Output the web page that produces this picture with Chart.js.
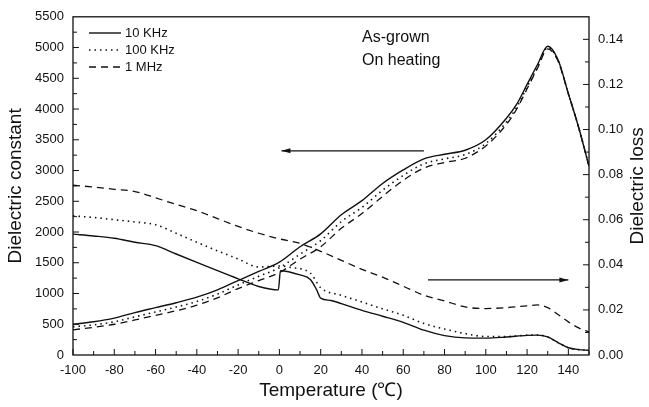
<!DOCTYPE html>
<html>
<head>
<meta charset="utf-8">
<script src="https://cdn.jsdelivr.net/npm/chart.js@4.4.1/dist/chart.umd.min.js"></script>
<style>
    html, body { margin: 0; padding: 0; background: #fff; }
    #wrap { position: relative; width: 649px; height: 407px; }
</style>
</head>
<body>
<div id="wrap"><canvas id="chartCanvas" width="649" height="407"></canvas></div>
<script>
// Dielectric constant (left axis)
const tempConst = [-100, -90, -80, -70, -60, -50, -40, -30, -20, -10, 0, 10, 20, 30, 40, 50, 60, 70, 80, 90, 100, 110, 115, 120, 125, 130, 135, 140, 145, 150];
const const10k = [500, 540, 600, 690, 770, 850, 940, 1060, 1210, 1360, 1510, 1760, 1970, 2280, 2510, 2790, 3010, 3190, 3265, 3330, 3500, 3850, 4080, 4400, 4720, 5020, 4800, 4250, 3700, 3070];
const const100k = [460, 490, 540, 620, 700, 780, 870, 990, 1140, 1280, 1420, 1640, 1860, 2170, 2400, 2680, 2920, 3110, 3190, 3260, 3440, 3790, 4030, 4360, 4680, 5000, 4790, 4250, 3700, 3070];
const const1M = [410, 450, 500, 570, 645, 720, 810, 930, 1080, 1210, 1340, 1560, 1760, 2060, 2300, 2580, 2840, 3040, 3130, 3200, 3400, 3750, 4000, 4330, 4660, 4980, 4780, 4250, 3700, 3070];

// Dielectric loss (right axis)
const tempLoss10k = [-100, -90, -80, -70, -60, -50, -40, -30, -20, -10, -0.5, 0.5, 10, 15, 18, 20, 25, 30, 40, 50, 60, 70, 80, 90, 100, 110, 120, 125, 130, 135, 140, 145, 150];
const loss10k = [0.0536, 0.0528, 0.0518, 0.0500, 0.0485, 0.0448, 0.0411, 0.0374, 0.0338, 0.0304, 0.0289, 0.0374, 0.0355, 0.0335, 0.0290, 0.0252, 0.0242, 0.0228, 0.0198, 0.0172, 0.0145, 0.0110, 0.0086, 0.0076, 0.0075, 0.0080, 0.0087, 0.0088, 0.0080, 0.0055, 0.0032, 0.0024, 0.0021];
const tempLoss100k = [-100, -90, -80, -70, -60, -50, -40, -30, -20, -10, 0, 5, 15, 20, 30, 40, 50, 60, 70, 80, 90, 100, 110, 120, 125, 130, 135, 140, 145, 150];
const loss100k = [0.0617, 0.0610, 0.0600, 0.0590, 0.0578, 0.0540, 0.0500, 0.0462, 0.0426, 0.0390, 0.0395, 0.0389, 0.0363, 0.0298, 0.0265, 0.0235, 0.0205, 0.0176, 0.0140, 0.0115, 0.0095, 0.0082, 0.0082, 0.0088, 0.0089, 0.0080, 0.0055, 0.0032, 0.0024, 0.0021];
const tempLoss1M = [-100, -90, -80, -70, -60, -50, -40, -30, -20, -10, 0, 10, 20, 30, 40, 50, 60, 70, 80, 90, 100, 110, 120, 125, 130, 135, 140, 145, 150];
const loss1M = [0.0753, 0.0745, 0.0735, 0.0725, 0.0697, 0.0668, 0.0640, 0.0605, 0.0570, 0.0540, 0.0515, 0.0495, 0.0460, 0.0420, 0.0380, 0.0345, 0.0305, 0.0265, 0.0240, 0.0213, 0.0206, 0.0210, 0.0218, 0.0222, 0.0210, 0.0180, 0.0147, 0.0120, 0.0103];

// ticks
const xTicks = [-100, -80, -60, -40, -20, 0, 20, 40, 60, 80, 100, 120, 140];
const constTicks = [0, 500, 1000, 1500, 2000, 2500, 3000, 3500, 4000, 4500, 5000, 5500];
const lossTicks = [0, 0.02, 0.04, 0.06, 0.08, 0.10, 0.12, 0.14];

const legendLabels = ['10 KHz', '100 KHz', '1 MHz'];
const noteLines = ['As-grown', 'On heating'];
const rightTitle = 'Dielectric loss';

const INK = '#111';
const FONT = 'Arial, "Liberation Sans", sans-serif';

const pts = (xs, ys) => xs.map((x, i) => ({ x, y: ys[i] }));

const styles = [
    { borderDash: [], borderWidth: 1.4 },
    { borderDash: [1.5, 4], borderWidth: 1.6 },
    { borderDash: [7, 5], borderWidth: 1.3 },
];

function ds(data, axis, s) {
    return {
        data,
        yAxisID: axis,
        borderColor: INK,
        borderWidth: s.borderWidth,
        borderDash: s.borderDash,
        pointRadius: 0,
        cubicInterpolationMode: 'monotone',
        fill: false,
    };
}

// frame, inward ticks, legend, notes, arrows and right title
const decor = {
    id: 'decor',
    afterDraw(chart) {
        const ctx = chart.ctx;
        const a = chart.chartArea;
        const sx = chart.scales.x, sl = chart.scales.yL, sr = chart.scales.yR;
        ctx.save();
        ctx.strokeStyle = INK;
        ctx.lineWidth = 1.3;
        ctx.strokeRect(a.left, a.top, a.right - a.left, a.bottom - a.top);

        ctx.lineWidth = 1;
        ctx.beginPath();
        for (let v = -100; v <= 150; v += 10) {
            const px = sx.getPixelForValue(v);
            const len = v % 20 === 0 ? 6 : 4;
            ctx.moveTo(px, a.bottom);
            ctx.lineTo(px, a.bottom - len);
        }
        for (let v = 250; v < 5500; v += 250) {
            const py = sl.getPixelForValue(v);
            const len = v % 500 === 0 ? 6 : 4;
            ctx.moveTo(a.left, py);
            ctx.lineTo(a.left + len, py);
        }
        for (let i = 1; i <= 14; i++) {
            const py = sr.getPixelForValue(i / 100);
            const len = i % 2 === 0 ? 6 : 4;
            ctx.moveTo(a.right, py);
            ctx.lineTo(a.right - len, py);
        }
        ctx.stroke();

        // legend
        ctx.font = '13px ' + FONT;
        ctx.fillStyle = INK;
        ctx.textBaseline = 'middle';
        legendLabels.forEach((lab, i) => {
            const y = 33 + i * 17;
            ctx.beginPath();
            ctx.lineWidth = styles[i].borderWidth;
            ctx.setLineDash(styles[i].borderDash);
            ctx.moveTo(89, y);
            ctx.lineTo(121, y);
            ctx.stroke();
            ctx.setLineDash([]);
            ctx.fillText(lab, 125, y);
        });

        // notes
        ctx.font = '16px ' + FONT;
        noteLines.forEach((t, i) => ctx.fillText(t, 362, 38 + i * 23));

        // arrows (in data coordinates)
        const arrow = (x0, x1, y) => {
            ctx.beginPath();
            ctx.lineWidth = 1.2;
            ctx.moveTo(x0, y);
            ctx.lineTo(x1, y);
            ctx.stroke();
            const d = x1 > x0 ? -1 : 1;
            ctx.beginPath();
            ctx.moveTo(x1, y);
            ctx.lineTo(x1 + d * 9, y - 2.5);
            ctx.lineTo(x1 + d * 9, y + 2.5);
            ctx.closePath();
            ctx.fill();
        };
        arrow(sx.getPixelForValue(70), sx.getPixelForValue(1), sl.getPixelForValue(3320));
        arrow(sx.getPixelForValue(72), sx.getPixelForValue(140), sr.getPixelForValue(0.0333));

        // right axis title reads bottom-to-top, like the left one
        ctx.font = '19px ' + FONT;
        ctx.textAlign = 'center';
        ctx.translate(638, (a.top + a.bottom) / 2);
        ctx.rotate(-Math.PI / 2);
        ctx.fillText(rightTitle, 0, 0);
        ctx.restore();
    },
};

const tickFont = { family: FONT, size: 13 };

new Chart(document.getElementById('chartCanvas'), {
    type: 'line',
    data: {
        datasets: [
            ds(pts(tempConst, const10k), 'yL', styles[0]),
            ds(pts(tempConst, const100k), 'yL', styles[1]),
            ds(pts(tempConst, const1M), 'yL', styles[2]),
            ds(pts(tempLoss10k, loss10k), 'yR', styles[0]),
            ds(pts(tempLoss100k, loss100k), 'yR', styles[1]),
            ds(pts(tempLoss1M, loss1M), 'yR', styles[2]),
        ],
    },
    options: {
        responsive: false,
        animation: false,
        layout: { padding: { top: 14, left: 0, right: 0, bottom: 0 } },
        plugins: { legend: { display: false }, tooltip: { enabled: false } },
        scales: {
            x: {
                type: 'linear',
                min: -100,
                max: 150,
                grid: { display: false, drawTicks: false },
                border: { display: false },
                afterBuildTicks: (s) => { s.ticks = xTicks.map((v) => ({ value: v })); },
                afterFit: (s) => { s.height = 52; },
                ticks: { color: INK, font: tickFont, padding: 8, maxRotation: 0, autoSkip: false, callback: (v) => String(v) },
                title: {
                    display: true,
                    text: 'Temperature (\u2103)',
                    color: INK,
                    font: { family: FONT, size: 19 },
                    padding: { top: 0, bottom: 5 },
                },
            },
            yL: {
                type: 'linear',
                position: 'left',
                min: 0,
                max: 5500,
                grid: { display: false, drawTicks: false },
                border: { display: false },
                afterBuildTicks: (s) => { s.ticks = constTicks.map((v) => ({ value: v })); },
                afterFit: (s) => { s.width = 73; },
                ticks: { color: INK, font: tickFont, padding: 9, autoSkip: false, callback: (v) => String(v) },
                title: {
                    display: true,
                    text: 'Dielectric constant',
                    color: INK,
                    font: { family: FONT, size: 19 },
                    padding: { top: 4, bottom: 0 },
                },
            },
            yR: {
                type: 'linear',
                position: 'right',
                min: 0,
                max: 0.15,
                grid: { display: false, drawTicks: false },
                border: { display: false },
                afterBuildTicks: (s) => { s.ticks = lossTicks.map((v) => ({ value: v })); },
                afterFit: (s) => { s.width = 60; },
                ticks: { color: INK, font: tickFont, padding: 9, autoSkip: false, callback: (v) => v.toFixed(2) },
            },
        },
    },
    plugins: [decor],
});
</script>
</body>
</html>
